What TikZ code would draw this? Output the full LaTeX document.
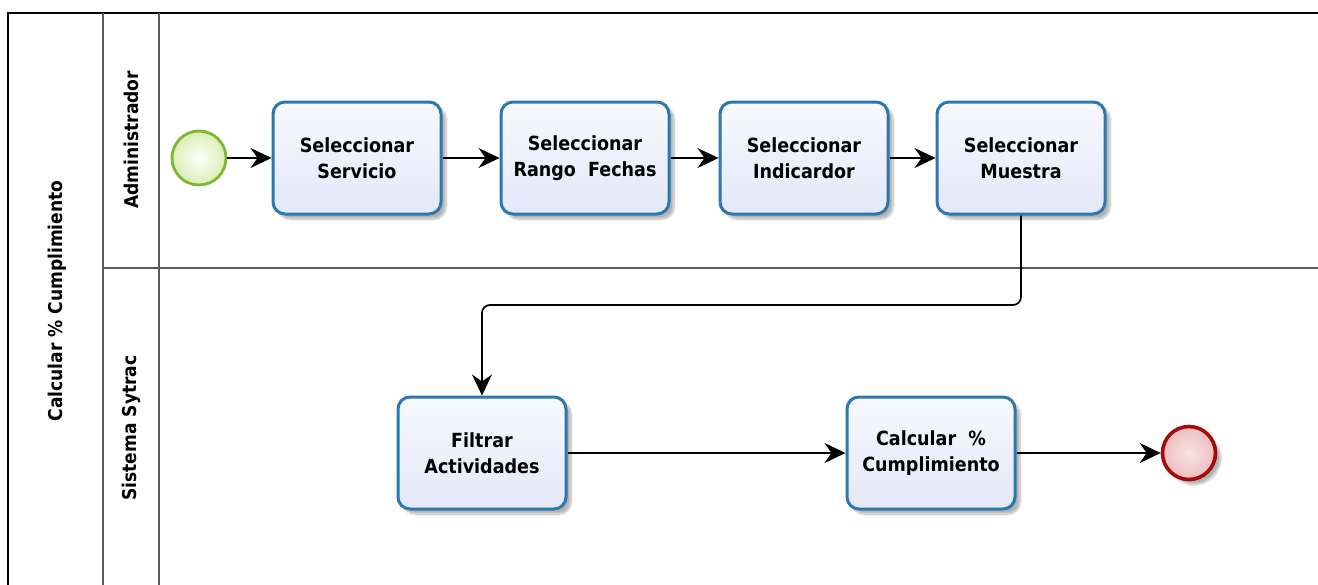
\documentclass[tikz,border=0pt]{standalone}
\usepackage{fontspec}
\setmainfont{DejaVu Sans Condensed}
\usetikzlibrary{arrows.meta,shadows.blur}
\definecolor{taskborder}{HTML}{2A78AD}
\definecolor{tasktop}{HTML}{F8F9FE}
\definecolor{taskbot}{HTML}{E3E8F8}
\definecolor{startborder}{HTML}{7DB733}
\definecolor{startfill}{HTML}{DCEDB2}
\definecolor{endborder}{HTML}{A30A0A}
\definecolor{endfill}{HTML}{EDBDBD}
\definecolor{laneline}{HTML}{5A5A5A}
\definecolor{ghost}{HTML}{EBEBEB}
\pgfdeclarelayer{background}
\pgfsetlayers{background,main}
\begin{document}
\begin{tikzpicture}[x=1pt,y=-1pt,
  task/.style={draw=taskborder, line width=3pt, rounded corners=12pt,
    minimum width=168pt, minimum height=112pt, inner sep=0pt,
    top color=tasktop, bottom color=taskbot, align=center,
    font=\bfseries\fontsize{19.5}{26}\selectfont,
    blur shadow={shadow xshift=5pt, shadow yshift=-5pt, shadow blur steps=8, shadow opacity=30}},
  startev/.style={circle, draw=startborder, line width=2.8pt, minimum size=54pt, inner sep=0pt,
    inner color=white, outer color=startfill},
  endev/.style={circle, draw=endborder, line width=3.6pt, minimum size=53pt, inner sep=0pt,
    inner color=white!60!endfill, outer color=endfill,
    blur shadow={shadow xshift=5pt, shadow yshift=-5pt, shadow blur steps=8, shadow opacity=30}},
  flow/.style={draw=black, line width=1.7pt, -{Stealth[length=21pt,width=20pt,inset=7pt]}},
  ghostline/.style={draw=ghost, line width=1.5pt},
  lanelabel/.style={rotate=90, font=\bfseries\fontsize{19}{22}\selectfont, inner sep=0pt}
]
\useasboundingbox (0,0) rectangle (1318,584);
\clip (0,0) rectangle (1318,584);

% pool and lanes
\draw[black, line width=1.5pt] (8,600) -- (8,13) -- (1330,13);
\draw[laneline, line width=1.5pt] (103,13) -- (103,600);
\draw[laneline, line width=1.5pt] (159,13) -- (159,600);
\draw[laneline, line width=1.5pt] (103,268) -- (1330,268);

\node[lanelabel] (pool) at (57,301) {Calcular \% Cumplimiento};
\node[lanelabel] (lane1) at (131,140) {Administrador};
\node[lanelabel] (lane2) at (131,428) {Sistema Sytrac};

% events and tasks
\node[startev] (start) at (199,158) {};
\node[task] (servicio) at (357,158) {Seleccionar\\Servicio};
\node[task] (rango) at (585,158) {Seleccionar\\Rango\ \ Fechas};
\node[task] (indicador) at (804,158) {Seleccionar\\Indicardor};
\node[task] (muestra) at (1021,158) {Seleccionar\\Muestra};
\node[task] (filtrar) at (482,453) {Filtrar\\Actividades};
\node[task] (calcular) at (931,453) {Calcular\ \ \%\\Cumplimiento};
\node[endev] (fin) at (1189,453) {};

\coordinate (bend) at (750,305);

% faint shadows of the connectors
\begin{pgfonlayer}{background}
  \begin{scope}[xshift=18pt, yshift=-17pt]
    \draw[ghostline] (start.east) -- (servicio.west);
    \draw[ghostline] (servicio.east) -- (rango.west);
    \draw[ghostline] (rango.east) -- (indicador.west);
    \draw[ghostline] (indicador.east) -- (muestra.west);
    \draw[ghostline, rounded corners=8pt] (muestra.south) |- (bend) -| (filtrar.north);
    \draw[ghostline] (filtrar.east) -- (calcular.west);
    \draw[ghostline] (calcular.east) -- (fin.west);
  \end{scope}
\end{pgfonlayer}

% sequence flows
\draw[flow] (start) -- (servicio);
\draw[flow] (servicio) -- (rango);
\draw[flow] (rango) -- (indicador);
\draw[flow] (indicador) -- (muestra);
\draw[flow, rounded corners=8pt] (muestra.south) |- (bend) -| (filtrar.north);
\draw[flow] (filtrar) -- (calcular);
\draw[flow] (calcular) -- (fin);
\end{tikzpicture}
\end{document}
